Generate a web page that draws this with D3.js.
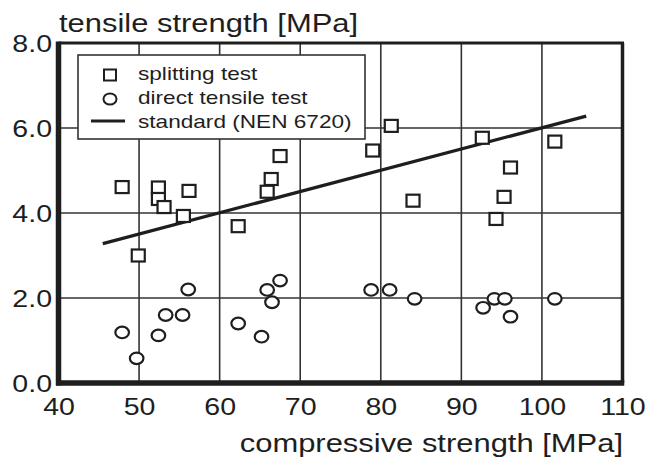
<!DOCTYPE html>
<html><head><meta charset="utf-8">
<script src="https://cdn.jsdelivr.net/npm/d3@7"></script>
<style>
html,body{margin:0;padding:0;background:#fff;}
text{font-family:"Liberation Sans",Arial,sans-serif;fill:#1e1e1e;}
</style></head>
<body><svg id="chart" width="652" height="466"></svg>
<script>
// ---- data ----
const splitX = [47.9, 52.4, 52.4, 53.1, 55.5, 56.2, 62.3, 65.9, 66.4, 67.5, 49.9,
                81.3, 79.0, 84.0, 92.6, 101.6, 96.1, 95.3, 94.3];
const splitY = [4.61, 4.60, 4.33, 4.14, 3.93, 4.52, 3.69, 4.50, 4.80, 5.34, 3.00,
                6.05, 5.47, 4.29, 5.77, 5.68, 5.07, 4.38, 3.86];
const directX = [47.9, 49.7, 52.4, 53.3, 55.4, 56.1, 62.3, 65.2, 65.9, 66.5, 67.5,
                 78.8, 81.1, 84.2, 92.7, 94.1, 95.4, 96.1, 101.6];
const directY = [1.19, 0.58, 1.12, 1.60, 1.60, 2.20, 1.40, 1.09, 2.19, 1.90, 2.41,
                 2.19, 2.19, 1.98, 1.77, 1.98, 1.98, 1.56, 1.98];
const standardX = [45.5, 105.5];
const standardY = [3.28, 6.28];
const xTicks = [40, 50, 60, 70, 80, 90, 100, 110];
const yTicks = [0, 2, 4, 6, 8];
const yTickLabels = ["0.0", "2.0", "4.0", "6.0", "8.0"];
const legendLabels = ["splitting test", "direct tensile test", "standard (NEN 6720)"];
const yTitle = "tensile strength [MPa]";
const xTitle = "compressive strength [MPa]";

// ---- drawing ----
const SX = 1.19;
const ink = "#1e1e1e";
const svg = d3.select("#chart");
const L = 58.5, R = 622.5, T = 43, B = 383;
const x = d3.scaleLinear().domain([40, 110]).range([L, R]);
const y = d3.scaleLinear().domain([0, 8]).range([B, T]);

// gridlines
const grid = svg.append("g").attr("stroke", "#333").attr("stroke-width", 1.6);
grid.selectAll("line.v").data(xTicks.slice(1, -1)).join("line")
  .attr("x1", d => x(d)).attr("x2", d => x(d)).attr("y1", T).attr("y2", B);
grid.selectAll("line.h").data(yTicks.slice(1, -1)).join("line")
  .attr("x1", L).attr("x2", R).attr("y1", d => y(d)).attr("y2", d => y(d));

// frame
svg.append("line").attr("x1", L).attr("x2", R + 1.5).attr("y1", T).attr("y2", T)
  .attr("stroke", ink).attr("stroke-width", 3);
svg.append("line").attr("x1", R).attr("x2", R).attr("y1", T).attr("y2", B)
  .attr("stroke", ink).attr("stroke-width", 3.5);
svg.append("line").attr("x1", L).attr("x2", L).attr("y1", T - 1.5).attr("y2", B + 2.5)
  .attr("stroke", ink).attr("stroke-width", 5.5);
svg.append("line").attr("x1", L - 2.5).attr("x2", R + 1.75).attr("y1", B).attr("y2", B)
  .attr("stroke", ink).attr("stroke-width", 5.5);

// axes labels
const ax = svg.append("g").attr("transform", `translate(0,${B})`)
  .call(d3.axisBottom(x).tickValues(xTicks).tickSize(0).tickPadding(15).tickFormat(d3.format("d")));
ax.select(".domain").remove();
ax.selectAll("text").attr("font-size", 24).attr("fill", ink)
  .attr("transform", `scale(${SX},1)`).style("font-family", "Liberation Sans, Arial, sans-serif");

const ay = svg.append("g").attr("transform", `translate(${L - 0.5},0)`)
  .call(d3.axisLeft(y).tickValues(yTicks).tickSize(0).tickPadding(5)
    .tickFormat((d, i) => yTickLabels[i]));
ay.select(".domain").remove();
ay.selectAll("text").attr("font-size", 24).attr("fill", ink).attr("dy", "0.36em")
  .attr("transform", `scale(${SX},1)`).style("font-family", "Liberation Sans, Arial, sans-serif");

// titles
svg.append("text").attr("transform", `translate(59,32) scale(${SX},1)`)
  .attr("font-size", 26).text(yTitle);
svg.append("text").attr("transform", `translate(623,452) scale(${SX},1)`)
  .attr("text-anchor", "end").attr("font-size", 26).text(xTitle);

// legend
const lg = svg.append("g");
lg.append("rect").attr("x", 78).attr("y", 55).attr("width", 287).attr("height", 84)
  .attr("fill", "#fff").attr("stroke", "#333").attr("stroke-width", 1.6);
lg.append("rect").attr("x", 104).attr("y", 69.5).attr("width", 12).attr("height", 11)
  .attr("fill", "none").attr("stroke", ink).attr("stroke-width", 2);
lg.append("ellipse").attr("cx", 110).attr("cy", 99).attr("rx", 6.5).attr("ry", 5.5)
  .attr("fill", "none").attr("stroke", ink).attr("stroke-width", 2);
lg.append("line").attr("x1", 91).attr("x2", 125).attr("y1", 121).attr("y2", 121)
  .attr("stroke", ink).attr("stroke-width", 3.2);
const lb = [80, 104, 127.5];
lg.selectAll("text").data(legendLabels).join("text")
  .attr("transform", (d, i) => `translate(138,${lb[i]}) scale(${SX},1)`)
  .attr("font-size", 19).text(d => d);

// standard line
svg.append("path")
  .datum(standardX.map((v, i) => [v, standardY[i]]))
  .attr("d", d3.line().x(d => x(d[0])).y(d => y(d[1])))
  .attr("fill", "none").attr("stroke", ink).attr("stroke-width", 3.2);

// splitting test squares
svg.append("g").selectAll("rect").data(splitX.map((v, i) => [v, splitY[i]])).join("rect")
  .attr("x", d => x(d[0]) - 6.5).attr("y", d => y(d[1]) - 6)
  .attr("width", 13).attr("height", 12)
  .attr("fill", "#fff").attr("stroke", ink).attr("stroke-width", 2.2);

// direct tensile circles
svg.append("g").selectAll("ellipse").data(directX.map((v, i) => [v, directY[i]])).join("ellipse")
  .attr("cx", d => x(d[0])).attr("cy", d => y(d[1]))
  .attr("rx", 6.8).attr("ry", 5.8)
  .attr("fill", "#fff").attr("stroke", ink).attr("stroke-width", 2.2);
</script>
</body></html>
